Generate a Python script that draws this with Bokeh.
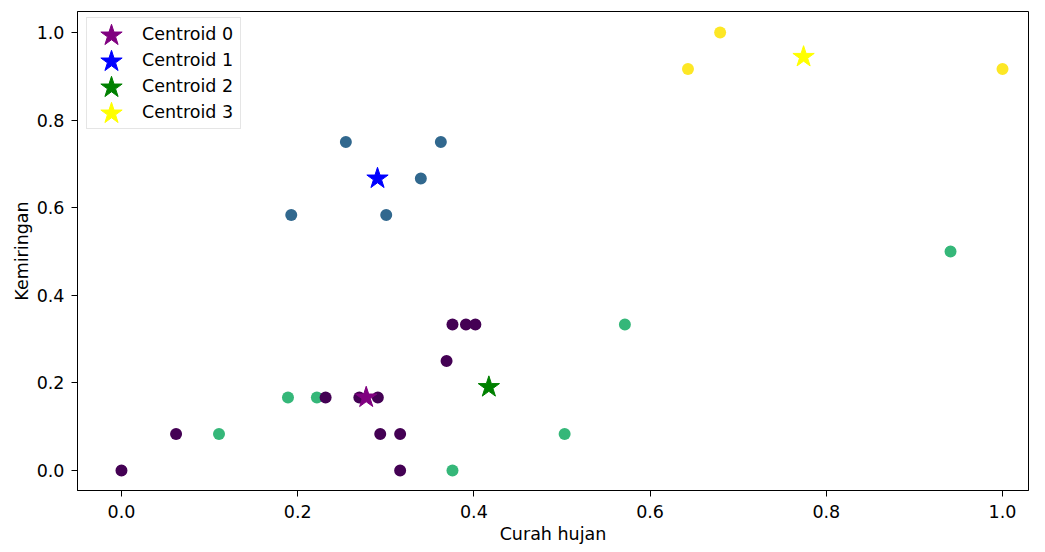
from bokeh.plotting import figure
from bokeh.models import Legend, LegendItem, FixedTicker, ColumnDataSource, Range1d
from bokeh.embed import file_html
from bokeh.resources import INLINE
from bokeh.transform import factor_cmap

# ---- data ----
cluster_names = ["0", "1", "2", "3"]
cluster_colors = ["#440154", "#31688e", "#35b779", "#fde725"]

# points (x = Curah hujan, y = Kemiringan, cluster label), in drawing order
pt_x = [0.1107, 0.189, 0.2218, 0.3757, 0.503, 0.5714, 0.941,
        0.2547, 0.3625, 0.3398, 0.1927, 0.3005,
        0.643, 0.6795, 1.0,
        0.0, 0.062, 0.3757, 0.391, 0.4017, 0.369, 0.2317, 0.270, 0.291, 0.2937, 0.3163, 0.3163]
pt_y = [0.0833, 0.1667, 0.1667, 0.0, 0.0833, 0.3333, 0.5,
        0.75, 0.75, 0.6667, 0.5833, 0.5833,
        0.9167, 1.0, 0.9167,
        0.0, 0.0833, 0.3333, 0.3333, 0.3333, 0.25, 0.1667, 0.1667, 0.1667, 0.0833, 0.0833, 0.0]
pt_label = ["2"] * 7 + ["1"] * 5 + ["3"] * 3 + ["0"] * 12

centroid_x = [0.2778, 0.2906, 0.417, 0.7742]
centroid_y = [0.1667, 0.6667, 0.1905, 0.9444]
centroid_labels = ["Centroid 0", "Centroid 1", "Centroid 2", "Centroid 3"]
centroid_colors = ["purple", "blue", "green", "yellow"]

x_ticks = [0.0, 0.2, 0.4, 0.6, 0.8, 1.0]
x_tick_labels = ["0.0", "0.2", "0.4", "0.6", "0.8", "1.0"]
y_ticks = [0.0, 0.2, 0.4, 0.6, 0.8, 1.0]
y_tick_labels = ["0.0", "0.2", "0.4", "0.6", "0.8", "1.0"]

FONT = "DejaVu Sans"
FS = "17.5px"

# layout (px)
LEFT, TOP, FW, FH = 77, 11, 951, 479
G = 56                      # legend glyph box for the star symbols
STAR = G * 0.4              # same star size in plot and legend
ROW_H, LEG_PAD = 26, 3

p = figure(frame_width=FW, frame_height=FH, output_backend="svg", toolbar_location=None,
           x_range=Range1d(-0.0499, 1.0295), y_range=Range1d(-0.0457, 1.048),
           min_border_left=LEFT, min_border_right=1, min_border_top=TOP, min_border_bottom=54)
p.grid.visible = False
p.outline_line_color = "#000000"
p.outline_line_width = 1
p.outline_line_alpha = 1

src = ColumnDataSource(dict(x=pt_x, y=pt_y, label=pt_label))
p.scatter("x", "y", source=src, size=12, line_color=None,
          fill_color=factor_cmap("label", cluster_colors, cluster_names))

star_renderers = []
proxy_items = []
for i in range(len(centroid_x)):
    r = p.scatter(x=[centroid_x[i]], y=[centroid_y[i]], marker="star", size=STAR,
                  fill_color=centroid_colors[i], line_color=centroid_colors[i], line_width=1)
    star_renderers.append(r)
    proxy = p.scatter(x=[], y=[], marker="star", fill_alpha=0, line_alpha=0)
    proxy_items.append(LegendItem(label=centroid_labels[i], renderers=[proxy]))

# legend box with labels
leg_h = 4 * ROW_H + 2 * LEG_PAD
leg_top = TOP + 8
main_legend = Legend(items=proxy_items, location=(9, FH - (leg_top - TOP) - leg_h),
                     padding=LEG_PAD, margin=0,
                     glyph_width=44, glyph_height=ROW_H, spacing=0, label_standoff=8,
                     label_width=95,
                     label_text_font=FONT, label_text_font_size=FS, label_text_color="#000000",
                     border_line_color="#cccccc", border_line_width=1,
                     background_fill_color="white", background_fill_alpha=0.8)
p.add_layout(main_legend)

# star symbols of the legend, one per row
for i, r in enumerate(star_renderers):
    row_c = leg_top + LEG_PAD + ROW_H * i + ROW_H // 2
    lg = Legend(items=[LegendItem(label="", renderers=[r])],
                location=(111 - G // 2 - LEFT, (TOP + FH) - (row_c + G // 2)),
                padding=0, margin=0, glyph_width=G, glyph_height=G, label_standoff=0,
                label_width=0, label_height=0, spacing=0,
                border_line_color=None, background_fill_alpha=0)
    p.add_layout(lg)

for ax, ticks, labels in ((p.xaxis[0], x_ticks, x_tick_labels), (p.yaxis[0], y_ticks, y_tick_labels)):
    ax.ticker = FixedTicker(ticks=ticks)
    ax.major_label_overrides = {t: l for t, l in zip(ticks, labels)}
    ax.minor_tick_line_color = None
    ax.major_tick_out = 6
    ax.major_tick_in = 0
    ax.axis_line_color = "#000000"
    ax.major_tick_line_color = "#000000"
    ax.major_label_text_font = FONT
    ax.major_label_text_font_size = FS
    ax.major_label_text_color = "#000000"
    ax.axis_label_text_font = FONT
    ax.axis_label_text_font_size = FS
    ax.axis_label_text_font_style = "normal"
    ax.axis_label_text_color = "#000000"

p.xaxis.axis_label = "Curah hujan"
p.yaxis.axis_label = "Kemiringan"
p.xaxis.major_label_standoff = 8
p.xaxis.axis_label_standoff = 3
p.yaxis.major_label_standoff = 7
p.yaxis.axis_label_standoff = 2

open("out.html", "w").write(file_html(p, INLINE))
